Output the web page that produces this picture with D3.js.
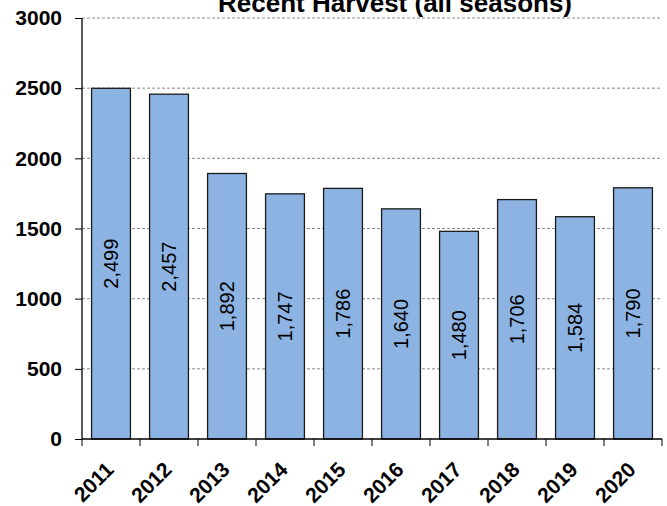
<!DOCTYPE html>
<html lang="en">
    <head>
        <meta charset="utf-8">
        <title>Recent Harvest</title>
        <script type="text/javascript" src="https://cdnjs.cloudflare.com/ajax/libs/d3/7.8.5/d3.min.js"></script>
        <style>
            body { margin: 0; background: #fff; }
            svg { display: block; font-family: "Liberation Sans", Arial, sans-serif; }
        </style>
    </head>
    <body>
        <div id="plot"></div>
        <script type="text/javascript">
            // data
            var years = ["2011", "2012", "2013", "2014", "2015", "2016", "2017", "2018", "2019", "2020"];
            var harvest = [2499, 2457, 1892, 1747, 1786, 1640, 1480, 1706, 1584, 1790];
            var yTicks = [0, 500, 1000, 1500, 2000, 2500, 3000];

            var width = 667;
            var height = 506;
            var margin = {top: 18, right: 5, bottom: 67, left: 82};

            var svg = d3.select("#plot")
                .append("svg")
                .attr("width", width)
                .attr("height", height);

            var xScale = d3.scaleBand()
                .domain(years)
                .range([margin.left, width - margin.right])
                .paddingInner(0.33)
                .paddingOuter(0.165);

            var yScale = d3.scaleLinear()
                .domain([0, 3000])
                .range([height - margin.bottom, margin.top]);

            // dashed gridlines
            svg.append("g")
                .selectAll("line")
                .data(yTicks.filter(function(d){ return d > 0; }))
                .enter()
                .append("line")
                .attr("x1", margin.left)
                .attr("x2", width - margin.right)
                .attr("y1", function(d){ return yScale(d); })
                .attr("y2", function(d){ return yScale(d); })
                .attr("stroke", "#8a8a8a")
                .attr("stroke-width", 1)
                .attr("stroke-dasharray", "3,2");

            // title (cut off at the top like the original)
            svg.append("text")
                .attr("x", 395)
                .attr("y", 12)
                .attr("text-anchor", "middle")
                .attr("font-size", "26px")
                .attr("font-weight", "bold")
                .text("Recent Harvest (all seasons)");

            // bars
            svg.append("g")
                .selectAll("rect")
                .data(harvest)
                .enter()
                .append("rect")
                .attr("x", function(d, i){ return xScale(years[i]); })
                .attr("y", function(d){ return yScale(d); })
                .attr("width", xScale.bandwidth())
                .attr("height", function(d){ return yScale(0) - yScale(d); })
                .attr("fill", "#8db3e2")
                .attr("stroke", "#1a1a1a")
                .attr("stroke-width", 1.3);

            // value labels, rotated inside the bars
            var fmt = d3.format(",");
            svg.append("g")
                .selectAll("text")
                .data(harvest)
                .enter()
                .append("text")
                .attr("transform", function(d, i){
                    var cx = xScale(years[i]) + xScale.bandwidth() / 2;
                    var cy = (yScale(d) + yScale(0)) / 2;
                    return "translate(" + cx + "," + cy + ") rotate(-90)";
                })
                .attr("text-anchor", "middle")
                .attr("dy", "0.35em")
                .attr("font-size", "20px")
                .attr("fill", "#000")
                .text(function(d){ return fmt(d); });

            // y axis
            var yAxis = d3.axisLeft(yScale)
                .tickValues(yTicks)
                .tickSize(7)
                .tickPadding(13)
                .tickFormat(d3.format("d"));
            var gy = svg.append("g")
                .attr("transform", "translate(" + margin.left + ",0)")
                .call(yAxis);
            gy.select(".domain").attr("stroke", "#000").attr("stroke-width", 1.3)
                .attr("d", "M0," + yScale(3000) + "V" + yScale(0));
            gy.selectAll(".tick line").attr("stroke", "#000");
            gy.selectAll(".tick text")
                .attr("font-size", "21px")
                .attr("font-weight", "bold")
                .attr("font-family", "Liberation Sans, Arial, sans-serif")
                .attr("fill", "#000");

            // x axis: baseline plus ticks at category boundaries
            var gx = svg.append("g")
                .attr("transform", "translate(0," + yScale(0) + ")");
            gx.append("line")
                .attr("x1", margin.left)
                .attr("x2", width - margin.right)
                .attr("stroke", "#000")
                .attr("stroke-width", 1.3);
            var bounds = years.map(function(y){ return xScale(y) - xScale.step() * xScale.paddingInner() / 2; });
            bounds.push(width - margin.right);
            gx.selectAll("line.tk")
                .data(bounds)
                .enter()
                .append("line")
                .attr("class", "tk")
                .attr("x1", function(d){ return d; })
                .attr("x2", function(d){ return d; })
                .attr("y1", 0)
                .attr("y2", 7)
                .attr("stroke", "#000");

            gx.selectAll("text")
                .data(years)
                .enter()
                .append("text")
                .attr("transform", function(d){
                    var cx = xScale(d) + xScale.bandwidth() / 2;
                    return "translate(" + (cx + 4) + ",32) rotate(-45)";
                })
                .attr("text-anchor", "end")
                .attr("font-size", "21px")
                .attr("font-weight", "bold")
                .text(function(d){ return d; });
        </script>
    </body>
</html>
